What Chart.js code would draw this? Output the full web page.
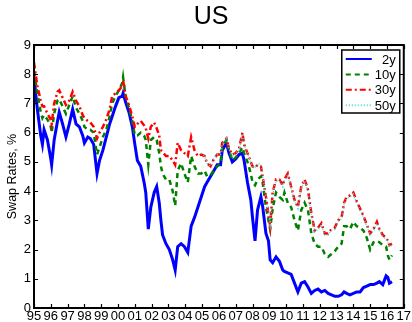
<!DOCTYPE html>
<html>
<head>
<meta charset="utf-8">
<script src="https://cdn.jsdelivr.net/npm/chart.js@4.4.1/dist/chart.umd.min.js"></script>
<style>
  html, body { margin: 0; padding: 0; background: #fff; }
  canvas { display: block; }
</style>
</head>
<body>
<canvas id="swapChart" width="412" height="322"></canvas>
<script>
// Sample dates (decimal years)
const dates = [
    1995.0, 1995.2, 1995.4, 1995.5, 1995.6, 1995.8,
    1996.0, 1996.05, 1996.2, 1996.4, 1996.5, 1996.7, 1996.9,
    1997.1, 1997.3, 1997.5, 1997.7, 1997.9,
    1998.0, 1998.2, 1998.35, 1998.55, 1998.75, 1998.9,
    1999.1, 1999.3, 1999.5, 1999.65, 1999.85,
    2000.05, 2000.25, 2000.3, 2000.45, 2000.65, 2000.85,
    2001.0, 2001.15, 2001.35, 2001.55, 2001.65, 2001.8, 2001.95,
    2002.15, 2002.3, 2002.45, 2002.55, 2002.65, 2002.85,
    2003.05, 2003.25, 2003.4, 2003.55, 2003.75, 2003.95,
    2004.15, 2004.35, 2004.55, 2004.75, 2004.95,
    2005.15, 2005.3, 2005.5, 2005.7, 2005.9,
    2006.1, 2006.2, 2006.45, 2006.6, 2006.8,
    2007.0, 2007.2, 2007.4, 2007.5, 2007.7, 2007.9,
    2008.0, 2008.15, 2008.3, 2008.5, 2008.6, 2008.8, 2008.95,
    2009.05, 2009.2, 2009.4, 2009.6, 2009.8, 2009.9,
    2010.1, 2010.3, 2010.5, 2010.7, 2010.9,
    2011.1, 2011.3, 2011.5, 2011.7, 2011.9,
    2012.1, 2012.3, 2012.5, 2012.7, 2012.9,
    2013.1, 2013.3, 2013.45, 2013.6, 2013.8,
    2014.0, 2014.2, 2014.4, 2014.6, 2014.8,
    2015.0, 2015.2, 2015.4, 2015.55, 2015.75, 2015.95,
    2016.05, 2016.15, 2016.3
];

const swap2y = [
    7.9, 6.8, 5.9, 5.6, 6.1, 5.75,
    5.1, 4.9, 5.75, 6.4, 6.7, 6.3, 5.85,
    6.3, 6.8, 6.3, 6.2, 5.9,
    5.65, 5.85, 5.8, 5.6, 4.6, 5.05,
    5.4, 5.85, 6.3, 6.55, 6.9,
    7.2, 7.25, 7.35, 7.05, 6.7, 6.2,
    5.6, 5.05, 4.85, 4.3, 3.95, 2.7, 3.45,
    3.95, 4.15, 3.6, 3.0, 2.5, 2.2,
    2.0, 1.65, 1.3, 2.1, 2.2, 2.1,
    1.9, 2.8, 3.1, 3.45, 3.8,
    4.15, 4.3, 4.5, 4.7, 4.9,
    4.9, 5.4, 5.65, 5.3, 5.0,
    5.1, 5.25, 5.3, 5.05, 4.3, 3.7,
    3.1, 2.3, 3.35, 3.8, 3.5, 2.55, 2.3,
    1.65, 1.55, 1.75, 1.6, 1.3, 1.25,
    1.2, 1.15, 0.85, 0.55, 0.85,
    0.9, 0.72, 0.5, 0.6, 0.65,
    0.55, 0.6, 0.5, 0.45, 0.4,
    0.4, 0.45, 0.55, 0.5, 0.45,
    0.5, 0.55, 0.55, 0.7, 0.75,
    0.8, 0.8, 0.85, 0.9, 0.8, 1.1,
    1.05, 0.85, 0.9
];

const swap10y = [
    8.1, 7.35, 6.7, 6.5, 6.6, 6.45,
    6.2, 6.0, 6.65, 7.1, 7.15, 6.9, 6.65,
    6.95, 7.25, 6.85, 6.65, 6.4,
    6.2, 6.1, 6.1, 6.0, 5.25, 5.5,
    5.85, 6.1, 6.55, 7.0, 7.25,
    7.45, 7.7, 7.9, 7.25, 6.85, 6.4,
    5.9, 5.9, 6.0, 5.9, 5.75, 4.9, 5.75,
    5.85, 5.75, 5.3, 4.85, 4.6, 4.4,
    4.4, 4.0, 3.5, 4.7, 4.95, 4.6,
    4.3, 5.2, 4.85, 4.6, 4.6,
    4.7, 4.5, 4.55, 4.7, 4.85,
    4.95, 5.5, 5.75, 5.4, 5.05,
    5.15, 5.3, 5.5, 5.3, 5.0, 4.6,
    4.3, 4.2, 4.4, 4.5, 4.3, 3.45, 3.0,
    2.7, 3.4, 3.95, 3.8, 3.7, 3.95,
    3.6, 3.45, 3.0, 2.65, 3.35,
    3.6, 3.35, 2.55, 2.2, 2.1,
    2.1, 1.85, 1.75, 1.85, 1.95,
    2.1, 2.2, 2.8, 2.8, 2.7,
    2.95, 2.8, 2.75, 2.65, 2.4,
    2.0, 2.25, 2.3, 2.25, 2.15, 2.1,
    1.8, 1.65, 1.8
];

const swap30y = [
    8.4, 7.6, 7.1, 6.9, 6.9, 6.65,
    6.45, 6.3, 7.0, 7.4, 7.45, 7.2, 6.95,
    7.1, 7.4, 7.1, 6.9, 6.6,
    6.5, 6.4, 6.35, 6.2, 5.8, 6.0,
    6.2, 6.45, 6.8, 7.25, 7.35,
    7.45, 7.6, 7.8, 7.25, 6.95, 6.55,
    6.2, 6.3, 6.4, 6.25, 6.15, 5.8, 6.2,
    6.35, 6.15, 5.9, 5.4, 5.35, 5.2,
    5.2, 5.05, 4.9, 5.65, 5.4, 5.3,
    5.2, 5.85, 5.4, 5.2, 5.25,
    5.2, 4.95, 4.85, 5.1, 5.25,
    5.25, 5.65, 5.8, 5.45, 5.25,
    5.3, 5.45, 6.0, 5.6, 5.3, 5.0,
    4.85, 4.8, 4.9, 4.85, 4.5, 3.8, 3.2,
    2.8, 3.95, 4.4, 4.4, 4.2, 4.4,
    4.6, 4.15, 3.7, 3.45, 4.15,
    4.4, 4.05, 3.25, 2.65, 2.75,
    2.9, 2.55, 2.55, 2.7, 2.75,
    3.0, 3.1, 3.6, 3.8, 3.85,
    3.95, 3.65, 3.4, 3.15, 2.85,
    2.55, 2.7, 2.95, 2.7, 2.5, 2.4,
    2.3, 2.15, 2.2
];

// 50y only starts late 2004 (aligned with the tail of dates)
const swap50y = [
    5.3,
    5.2, 4.95, 4.85, 5.1, 5.25,
    5.25, 5.6, 5.8, 5.45, 5.2,
    5.3, 5.4, 5.95, 5.6, 5.3, 5.0,
    4.85, 4.8, 4.95, 4.9, 4.55, 3.85, 3.25,
    2.85, 3.9, 4.35, 4.35, 4.15, 4.35,
    4.55, 4.1, 3.65, 3.4, 4.1,
    4.35, 4.0, 3.2, 2.6, 2.7,
    2.85, 2.5, 2.5, 2.65, 2.7,
    2.95, 3.05, 3.55, 3.75, 3.8,
    3.9, 3.6, 3.35, 3.1, 2.8,
    2.5, 2.65, 2.9, 2.65, 2.45, 2.35,
    2.25, 2.1, 2.15
];

const yearLabels = ['95', '96', '97', '98', '99', '00', '01', '02', '03', '04', '05', '06',
    '07', '08', '09', '10', '11', '12', '13', '14', '15', '16', '17'];
const seriesNames = ['2y', '10y', '30y', '50y'];

const FONT = 'Liberation Sans, Arial, Helvetica, sans-serif';

function toPoints(xs, ys) {
    return ys.map((v, i) => ({ x: xs[i], y: v }));
}

// MATLAB style box with inward ticks on all four sides
const frameTicks = {
    id: 'frameTicks',
    afterDatasetsDraw(chart) {
        const { ctx, chartArea: a, scales: { x, y } } = chart;
        ctx.save();
        ctx.strokeStyle = '#000';
        ctx.lineWidth = 1.2;
        ctx.beginPath();
        x.ticks.forEach(t => {
            const px = Math.round(x.getPixelForValue(t.value)) + 0.5;
            ctx.moveTo(px, a.bottom); ctx.lineTo(px, a.bottom - 4);
            ctx.moveTo(px, a.top); ctx.lineTo(px, a.top + 4);
        });
        y.ticks.forEach(t => {
            const py = Math.round(y.getPixelForValue(t.value)) + 0.5;
            ctx.moveTo(a.left, py); ctx.lineTo(a.left + 4, py);
            ctx.moveTo(a.right, py); ctx.lineTo(a.right - 4, py);
        });
        ctx.stroke();
        ctx.lineWidth = 2;
        ctx.strokeRect(a.left, a.top, a.right - a.left, a.bottom - a.top);
        ctx.restore();
    }
};

// Boxed legend inside the top right corner
const boxLegend = {
    id: 'boxLegend',
    afterDraw(chart) {
        const { ctx, chartArea: a } = chart;
        const right = a.right - 4, left = right - 58, top = a.top + 5, h = 63;
        ctx.save();
        ctx.fillStyle = '#fff';
        ctx.fillRect(left, top, right - left, h);
        ctx.strokeStyle = '#000';
        ctx.lineWidth = 1.5;
        ctx.strokeRect(left, top, right - left, h);
        ctx.font = '13px ' + FONT;
        ctx.textAlign = 'right';
        ctx.textBaseline = 'middle';
        chart.data.datasets.forEach((ds, i) => {
            const cy = top + 9 + i * 15.4;
            ctx.strokeStyle = ds.borderColor;
            ctx.lineWidth = 2;
            ctx.setLineDash(ds.borderDash || []);
            ctx.beginPath();
            ctx.moveTo(left + 4, cy);
            ctx.lineTo(left + 30, cy);
            ctx.stroke();
            ctx.setLineDash([]);
            ctx.fillStyle = '#000';
            ctx.fillText(ds.label, right - 4, cy + 1);
        });
        ctx.restore();
    }
};

const swapChart = new Chart(document.getElementById('swapChart'), {
    type: 'line',
    data: {
        datasets: [
            {
                label: seriesNames[0],
                data: toPoints(dates, swap2y),
                borderColor: '#0000ff',
                borderWidth: 3,
                order: 4
            },
            {
                label: seriesNames[1],
                data: toPoints(dates, swap10y),
                borderColor: '#008000',
                borderWidth: 2.5,
                borderDash: [5, 4],
                order: 3
            },
            {
                label: seriesNames[2],
                data: toPoints(dates, swap30y),
                borderColor: '#ff0000',
                borderWidth: 2.5,
                borderDash: [6, 3, 2, 3],
                order: 2
            },
            {
                label: seriesNames[3],
                data: toPoints(dates.slice(dates.length - swap50y.length), swap50y),
                borderColor: '#40dede',
                borderWidth: 1.5,
                borderDash: [1, 2],
                order: 1
            }
        ]
    },
    options: {
        responsive: false,
        animation: false,
        devicePixelRatio: 1,
        elements: {
            point: { radius: 0 },
            line: { tension: 0, fill: false }
        },
        layout: {
            padding: { left: 10, right: 0, top: 0, bottom: 0 }
        },
        scales: {
            x: {
                type: 'linear',
                min: 1995,
                max: 2017,
                grid: { display: false, drawTicks: false },
                border: { display: false },
                ticks: {
                    stepSize: 1,
                    autoSkip: false,
                    maxRotation: 0,
                    padding: 1,
                    color: '#000',
                    font: { family: FONT, size: 13 },
                    callback: v => yearLabels[Math.round(v - 1995)]
                },
                afterFit: s => { s.height = 14; }
            },
            y: {
                min: 0,
                max: 9,
                grid: { display: false, drawTicks: false },
                border: { display: false },
                ticks: {
                    stepSize: 1,
                    padding: 3,
                    color: '#000',
                    font: { family: FONT, size: 13 }
                },
                title: {
                    display: true,
                    text: 'Swap Rates, %',
                    color: '#000',
                    font: { family: FONT, size: 12.5 },
                    padding: { top: -5, bottom: 0 }
                },
                afterFit: s => { s.width = 24; }
            }
        },
        plugins: {
            legend: { display: false },
            tooltip: { enabled: false },
            title: {
                display: true,
                text: 'US',
                color: '#000',
                font: { family: FONT, size: 25, weight: 'normal' },
                padding: { top: 2.5, bottom: 12.5 }
            }
        }
    },
    plugins: [frameTicks, boxLegend]
});
</script>
</body>
</html>
